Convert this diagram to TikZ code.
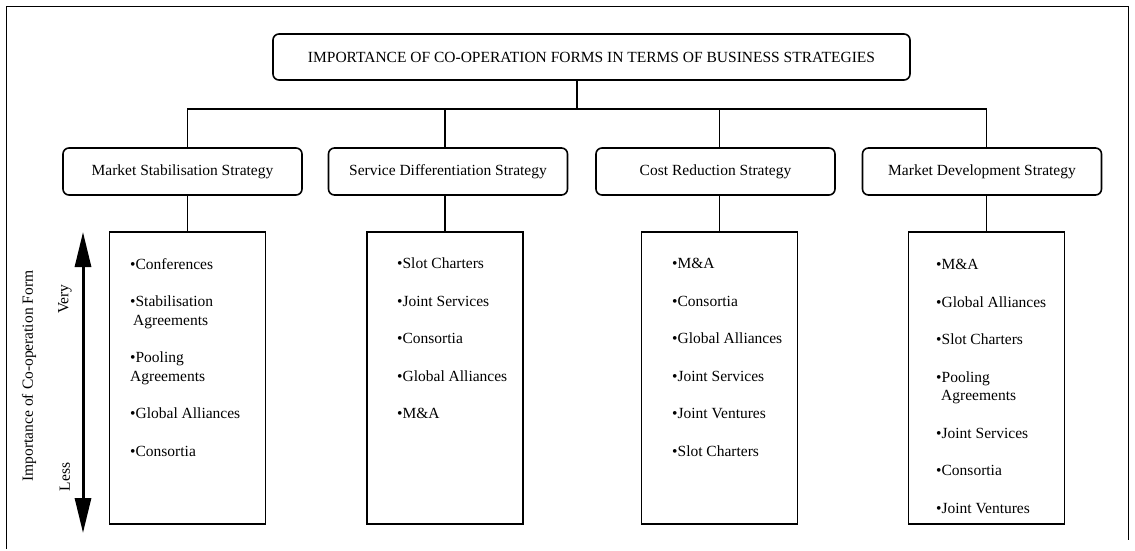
\documentclass[tikz,border=0pt]{standalone}
\usepackage{fontspec}
\setmainfont{Liberation Serif}
\usetikzlibrary{arrows.meta}
\begin{document}
\begin{tikzpicture}[x=1pt,y=-1pt,
  every node/.style={font=\fontsize{15.5}{18.5}\selectfont},
  titlebox/.style={draw,line width=1.6pt,rounded corners=6pt,minimum width=637pt,minimum height=46pt,inner sep=0pt},
  stratbox/.style={draw,line width=1.6pt,rounded corners=6pt,minimum width=239pt,minimum height=47pt,inner sep=0pt},
  listbox/.style={draw,line width=1.6pt,minimum width=156pt,minimum height=292pt,inner sep=0pt},
  items/.style={align=left,anchor=north west,inner sep=0pt},
  conn/.style={line width=1.5pt},
  vlabel/.style={rotate=90,inner sep=0pt}]
\useasboundingbox (0,0) rectangle (1135,551);
% outer frame
\draw[line width=1pt] (6,549) -- (6,7) -- (1128,7) -- (1128,540);
% title
\node[titlebox] (title) at (591.5,57) {IMPORTANCE OF CO-OPERATION FORMS IN TERMS OF BUSINESS STRATEGIES};
% strategies
\node[stratbox] (s1) at (182.5,171.5) {Market Stabilisation Strategy};
\node[stratbox] (s2) at (448,171.5) {Service Differentiation Strategy};
\node[stratbox] (s3) at (715.5,171.5) {Cost Reduction Strategy};
\node[stratbox] (s4) at (982,171.5) {Market Development Strategy};
% lists
\node[listbox] (l1) at (187.5,378) {};
\node[listbox] (l2) at (445,378) {};
\node[listbox] (l3) at (719.5,378) {};
\node[listbox] (l4) at (986.5,378) {};
\node[items] (t1) at (130,258) {•Conferences\\[19pt]•Stabilisation\\\hspace*{3pt}Agreements\\[19pt]•Pooling\\Agreements\\[19pt]•Global Alliances\\[19pt]•Consortia};
\node[items] (t2) at (397,258) {•Slot Charters\\[19pt]•Joint Services\\[19pt]•Consortia\\[19pt]•Global Alliances\\[19pt]•M\&A};
\node[items] (t3) at (672,258) {•M\&A\\[19pt]•Consortia\\[19pt]•Global Alliances\\[19pt]•Joint Services\\[19pt]•Joint Ventures\\[19pt]•Slot Charters};
\node[items] (t4) at (936,259) {•M\&A\\[19pt]•Global Alliances\\[19pt]•Slot Charters\\[19pt]•Pooling\\\hspace*{5pt}Agreements\\[19pt]•Joint Services\\[19pt]•Consortia\\[19pt]•Joint Ventures};
% connectors
\coordinate (bus) at (577,109);
\draw[conn] (title.south -| bus) -- (bus);
\draw[conn] (l1.north |- s1.north) -- (l1.north |- bus) -- (l4.north |- bus) -- (l4.north |- s4.north);
\draw[conn] (l2.north |- s2.north) -- (l2.north |- bus);
\draw[conn] (l3.north |- s3.north) -- (l3.north |- bus);
\draw[conn] (s1.south -| l1.north) -- (l1.north);
\draw[conn] (s2.south -| l2.north) -- (l2.north);
\draw[conn] (s3.south -| l3.north) -- (l3.north);
\draw[conn] (s4.south -| l4.north) -- (l4.north);
% importance arrow
\coordinate (atop) at (83,232);
\coordinate (abot) at (83,533);
\draw[line width=3pt,{Triangle[length=35pt,width=16pt]}-{Triangle[length=35pt,width=16pt]}] (atop) -- (abot);
\node[vlabel] (very) at (65,299) {Very};
\node[vlabel] (less) at (65,477) {Less};
\node[vlabel] (imp) at (29,376) {Importance of Co-operation Form};
\end{tikzpicture}
\end{document}
